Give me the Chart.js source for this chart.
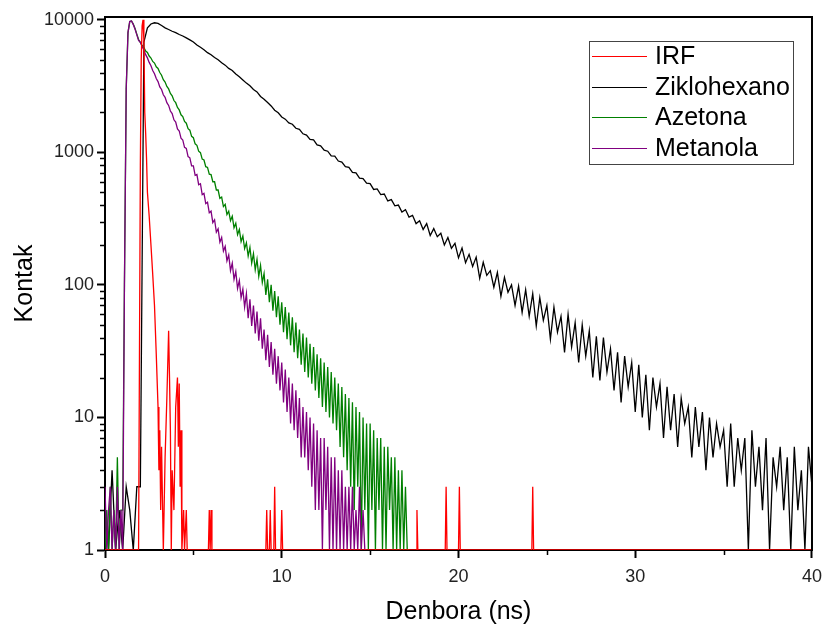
<!DOCTYPE html>
<html>
<head>
<meta charset="utf-8">
<script src="https://cdn.jsdelivr.net/npm/chart.js@4.4.0/dist/chart.umd.min.js"></script>
<style>
    html, body { margin: 0; padding: 0; background: #fff; }
</style>
</head>
<body>
<canvas id="grafico" width="830" height="628"></canvas>
<script>
// ardatzak
const xTicks = [0, 10, 20, 30, 40];
const xMinor = [5, 15, 25, 35];
const yTicks = [1, 10, 100, 1000, 10000];

// IRF: denbora (ns) eta kontak
const irfDenbora = [0, 1.9, 1.95, 2.0, 2.05, 2.1, 2.15, 2.2, 2.25, 2.3, 2.35, 2.4, 2.5, 2.6, 2.7, 2.8, 2.9, 3.0, 3.05, 3.1,
    3.15, 3.2, 3.3, 3.4, 3.5, 3.6, 3.65, 3.7, 3.75, 3.8, 3.9, 4.0, 4.1, 4.15, 4.2, 4.25, 4.3, 4.35, 4.45, 4.5,
    4.6, 4.65, 4.7, 5.85, 5.9, 5.95, 6.0, 6.05, 9.1, 9.15, 9.2, 9.3, 9.35, 9.4, 9.55, 9.6, 9.65, 9.95, 10.0, 10.05,
    17.6, 17.65, 17.7, 19.25, 19.3, 19.35, 20.0, 20.05, 20.1, 24.15, 24.2, 24.25, 40];
const irfKontak = [1, 1, 30, 800, 5000, 9000, 10000, 7000, 2000, 1400, 900, 500, 330, 200, 120, 70, 30, 12, 4, 8,
    2, 6, 1, 5, 14, 45, 20, 8, 1, 4, 2, 12, 20, 6, 18, 3, 8, 1, 2, 1,
    2, 1, 1, 1, 2, 1, 2, 1, 1, 2, 1, 1, 2, 1, 1, 3, 1, 1, 2, 1,
    1, 2, 1, 1, 3, 1, 1, 3, 1, 1, 3, 1, 1];

// Ziklohexano: 0 ns-tik hasita, 0.2 ns-ko pausoa
const zikloPausoa = 0.2;
const ziklohexano = [
    2, 1, 4, 1, 2, 1, 3, 2, 1, 3,
    3, 6800, 8700, 9300, 9500, 9400, 9050, 8700, 8450, 8200,
    8000, 7750, 7550, 7300, 7050, 6800, 6450, 6200, 5950, 5650,
    5450, 5200, 5000, 4750, 4550, 4300, 4150, 3900, 3720, 3520,
    3330, 3180, 2980, 2860, 2640, 2520, 2380, 2240, 2080, 1990,
    1850, 1780, 1670, 1630, 1520, 1490, 1380, 1350, 1250, 1240,
    1140, 1120, 1040, 1020, 940, 935, 860, 845, 780, 770,
    705, 700, 640, 635, 585, 580, 525, 530, 480, 485,
    430, 440, 395, 400, 355, 370, 325, 335, 290, 305,
    262, 290, 236, 266, 231, 245, 200, 228, 189, 206,
    160, 190, 147, 170, 138, 162, 112, 148, 118, 128,
    96, 124, 82, 114, 88, 100, 70, 98, 62, 92,
    58, 86, 49, 80, 54, 70, 39, 68, 44, 58,
    31, 60, 34, 52, 26, 50, 29, 45, 20, 41,
    19, 40, 22, 33, 16, 31, 13, 29, 17, 26,
    11, 25, 10, 21, 8, 20, 12, 18, 7, 17,
    8, 15, 6, 14, 9, 12, 5, 12, 6, 11,
    4, 10, 5, 9, 6, 8, 3, 9, 3, 7,
    4, 7, 1, 8, 3, 6, 2, 7, 1, 5,
    3, 6, 2, 5, 1, 6, 2, 4, 1, 6,
    3
];

// Azetona eta Metanola: 0 ns-tik hasita, 0.1 ns-ko pausoa
const pausoa = 0.1;
const azetona = [
    1, 2, 1, 3, 1, 2, 1, 5, 1, 2,
    2, 100, 3000, 8000, 9700, 9800, 9300, 8600, 7800, 7100,
    6760, 6400, 6200, 5820, 5680, 5330, 5150, 4850, 4720, 4420,
    4300, 4000, 3820, 3530, 3390, 3140, 3010, 2780, 2670, 2460,
    2370, 2180, 2090, 1920, 1860, 1710, 1660, 1510, 1470, 1320,
    1290, 1160, 1130, 1020, 995, 890, 875, 780, 770, 685,
    680, 600, 600, 520, 520, 450, 460, 390, 405, 340,
    360, 305, 330, 270, 292, 240, 262, 212, 234, 188,
    208, 165, 192, 146, 172, 130, 156, 116, 140, 104,
    122, 84, 110, 74, 100, 64, 90, 57, 82, 50,
    74, 44, 68, 39, 62, 35, 57, 31, 52, 28,
    46, 25, 43, 22, 40, 20, 36, 18, 34, 16,
    30, 14, 28, 12, 26, 11, 24, 10, 22, 9,
    20, 8, 18, 6, 17, 5, 15, 4, 14, 3,
    13, 2, 12, 3, 11, 1, 10, 2, 9, 1,
    9, 2, 8, 1, 7, 2, 7, 1, 6, 1,
    6, 2, 5, 1, 5, 1, 4, 1, 4, 1,
    3, 1, 1
];
const metanola = [
    3, 1, 2, 3, 1, 2, 1, 3, 1, 2,
    1, 100, 3000, 8000, 9700, 9800, 9200, 8500, 7700, 7000,
    6760, 6280, 5920, 5460, 5160, 4770, 4500, 4150, 3920, 3610,
    3420, 3120, 2980, 2720, 2600, 2370, 2260, 2050, 1960, 1760,
    1690, 1500, 1450, 1280, 1240, 1090, 1070, 930, 910, 790,
    790, 670, 680, 570, 580, 480, 490, 410, 420, 350,
    360, 295, 310, 250, 265, 210, 228, 180, 195, 152,
    168, 128, 146, 110, 126, 94, 108, 80, 93, 68,
    86, 56, 78, 49, 70, 43, 63, 38, 56, 33,
    46, 27, 42, 24, 37, 21, 33, 18, 29, 16,
    26, 13, 23, 11, 20, 9, 18, 8, 16, 7,
    14, 5, 12, 5, 11, 4, 10, 3, 9, 2,
    8, 2, 7, 1, 7, 2, 6, 1, 5, 1,
    5, 1, 4, 1, 4, 1, 3, 1, 3, 1,
    3, 1, 2, 1, 3, 1, 2, 1, 1
];

const letra = 'Liberation Sans, Arial, sans-serif';

function puntuak(balioak, pausoa) {
    return balioak.map((v, i) => ({ x: Math.round(i * pausoa * 100) / 100, y: v }));
}

// markoa, tick txikiak eta legenda
const marko = {
    id: 'marko',
    afterDraw(chart) {
        const ctx = chart.ctx;
        const a = chart.chartArea;
        const x = chart.scales.x;
        const y = chart.scales.y;
        ctx.save();
        ctx.strokeStyle = '#000';
        ctx.lineWidth = 2;
        ctx.beginPath();
        ctx.moveTo(a.left - 1, a.top);
        ctx.lineTo(a.right, a.top);
        ctx.lineTo(a.right, a.bottom + 1);
        ctx.stroke();

        ctx.lineWidth = 1.5;
        ctx.beginPath();
        xMinor.forEach(function (v) {
            const px = Math.round(x.getPixelForValue(v)) + 0.5;
            ctx.moveTo(px, a.bottom);
            ctx.lineTo(px, a.bottom + 5);
        });
        for (let d = 1; d < 10000; d *= 10) {
            for (let m = 2; m < 10; m++) {
                const py = Math.round(y.getPixelForValue(d * m)) + 0.5;
                ctx.moveTo(a.left, py);
                ctx.lineTo(a.left - 5, py);
            }
        }
        ctx.stroke();

        // legenda
        const bx = 589, by = 41, bw = 204, bh = 123;
        ctx.fillStyle = '#fff';
        ctx.fillRect(bx, by, bw, bh);
        ctx.strokeStyle = '#444';
        ctx.lineWidth = 1;
        ctx.strokeRect(bx + 0.5, by + 0.5, bw, bh);
        ctx.font = '25px ' + letra;
        ctx.textBaseline = 'middle';
        ctx.textAlign = 'left';
        chart.data.datasets.forEach(function (ds, i) {
            const ly = Math.round(by + 15 + i * 30.5) + 0.5;
            ctx.strokeStyle = ds.borderColor;
            ctx.beginPath();
            ctx.moveTo(bx + 3, ly);
            ctx.lineTo(bx + 58, ly);
            ctx.stroke();
            ctx.fillStyle = '#000';
            ctx.fillText(ds.label, bx + 66, ly + 1);
        });
        ctx.restore();
    }
};

const config = {
    type: 'line',
    data: {
        datasets: [
            {
                label: 'IRF',
                data: irfDenbora.map((t, i) => ({ x: t, y: irfKontak[i] })),
                borderColor: '#ff0000',
                order: 0
            },
            {
                label: 'Ziklohexano',
                data: puntuak(ziklohexano, zikloPausoa),
                borderColor: '#000000',
                order: 3
            },
            {
                label: 'Azetona',
                data: puntuak(azetona, pausoa),
                borderColor: '#008000',
                order: 2
            },
            {
                label: 'Metanola',
                data: puntuak(metanola, pausoa),
                borderColor: '#800080',
                order: 1
            }
        ]
    },
    options: {
        responsive: false,
        animation: false,
        layout: { padding: { top: 17, right: 11, left: 0, bottom: 0 } },
        elements: {
            line: { borderWidth: 1.3, tension: 0 },
            point: { radius: 0 }
        },
        plugins: {
            legend: { display: false },
            tooltip: { enabled: false }
        },
        scales: {
            x: {
                type: 'linear',
                min: 0,
                max: 40,
                afterBuildTicks: s => { s.ticks = xTicks.map(v => ({ value: v })); },
                afterFit: s => { s.height = 78; },
                ticks: {
                    color: '#222',
                    font: { family: letra, size: 18 },
                    padding: 8,
                    maxRotation: 0
                },
                grid: {
                    drawOnChartArea: false,
                    tickLength: 8,
                    tickWidth: 2,
                    color: '#000'
                },
                border: { display: true, color: '#000', width: 2 },
                title: {
                    display: true,
                    text: 'Denbora (ns)',
                    color: '#000',
                    font: { family: letra, size: 25 },
                    padding: { top: 0, bottom: 1 }
                }
            },
            y: {
                type: 'logarithmic',
                min: 1,
                max: 10500,
                afterBuildTicks: s => { s.ticks = yTicks.map(v => ({ value: v })); },
                afterFit: s => { s.width = 105; },
                ticks: {
                    color: '#222',
                    font: { family: letra, size: 18 },
                    padding: 3,
                    autoSkip: false,
                    callback: v => String(v)
                },
                grid: {
                    drawOnChartArea: false,
                    tickLength: 8,
                    tickWidth: 2,
                    color: '#000'
                },
                border: { display: true, color: '#000', width: 2 },
                title: {
                    display: true,
                    text: 'Kontak',
                    color: '#000',
                    font: { family: letra, size: 25 },
                    padding: { top: 10, bottom: 0 }
                }
            }
        }
    },
    plugins: [marko]
};

const grafikoa = new Chart(document.getElementById('grafico'), config);
</script>
</body>
</html>
